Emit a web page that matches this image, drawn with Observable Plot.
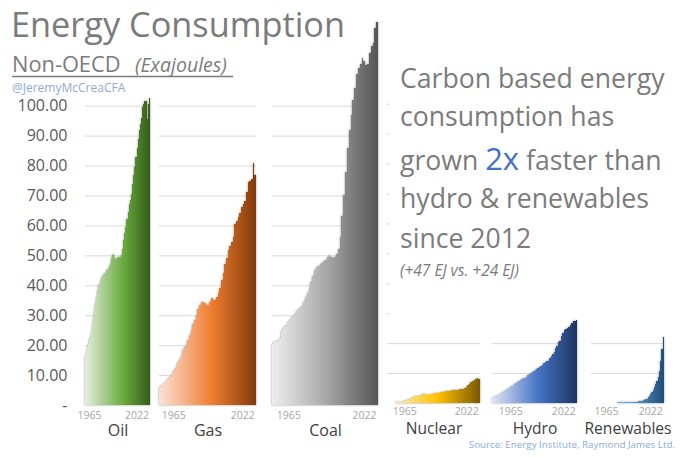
<!DOCTYPE html>
<html><head><meta charset="utf-8">
<script src="https://cdn.jsdelivr.net/npm/d3@7"></script>
<script src="https://cdn.jsdelivr.net/npm/@observablehq/plot@0.6"></script>
<style>
html,body{margin:0;padding:0;background:#fff;}
#chart{position:relative;width:680px;height:457px;overflow:hidden;font-family:"Open Sans",sans-serif;background:#fff;}
#chart > svg{position:absolute;top:0;}
</style></head><body><div id="chart"></div>
<script>
// ---------- data (EJ, non-OECD, 1965..2022) ----------
const years = d3.range(1965, 2023);
const oil = [16.5,17.5,19,20.5,22.5,24.5,27,29.5,32,34,
  36,38,40,41.5,42.5,43,43.5,44,44,45,
  45.5,46.5,47.5,49,50,50.5,49,48.5,49,49.5,
  49.5,49.5,50,52,55,57.5,59.5,62,64.5,67,
  68.5,70.5,74,77,79.5,83,86,89,92,94,
  96,99.5,100.5,101.5,101.5,95.5,100.5,102.5];
const gas = [6,6.5,7,7.3,8,8.8,9.5,10,11,12,
  13,14.4,15.5,16.5,18.3,19.5,20.5,21.7,23.5,25,
  27,28.5,30,32,33.5,34.5,34.4,34,33.5,33.3,
  34.5,35.6,35,35,36,37.3,39,41.7,44,47,
  49,51.7,53,54.4,56,60.6,61.5,62.8,64,66,
  67,68.3,71,74.4,75,75.6,81,77];
const coal = [20.5,21.5,21,21.5,22.5,25,26,26.5,27.5,28,
  29,29.5,30.5,31.5,32,32.5,33,34.5,36,37.5,
  39,41,43,45,46,46.5,47,47.5,48,48.5,
  49.5,50,49.5,49,49.5,50.5,52,56,63,70,
  78,86,92,97,102,106,110.5,112.5,114,116,
  115,113.5,114,117.5,120,121,126,128];
const nuclear = [0.05,0.05,0.1,0.1,0.15,0.2,0.25,0.3,0.4,0.5,
  0.6,0.7,0.9,1.1,1.4,1.7,2.0,2.2,2.4,2.5,
  2.5,2.7,2.9,3.0,2.9,2.8,2.7,2.9,3.1,3.2,
  3.3,3.4,3.5,3.6,3.7,3.8,3.9,3.9,4.0,4.1,
  4.2,4.2,4.3,4.3,4.4,4.7,4.6,4.8,5.0,5.5,
  6.0,6.5,6.9,7.3,7.8,8.1,8.5,7.9];
const hydro = [1.8,2.0,2.2,2.4,2.7,3.0,3.3,3.6,4.0,4.4,
  4.7,5.0,5.3,5.7,6.0,6.3,6.6,7.0,7.3,7.6,
  7.9,8.2,8.5,8.8,9.2,9.6,9.9,10.2,10.7,11.0,
  11.4,11.8,12.1,12.5,12.8,13.2,13.6,13.9,14.1,15.0,
  15.8,16.3,17.0,18.5,19.2,20.5,20.8,22.5,23.3,24.3,
  24.7,25.2,25.5,26.0,26.6,27.3,27.4,27.6];
const renewables = [0.05,0.05,0.05,0.05,0.05,0.05,0.06,0.06,0.07,0.07,
  0.08,0.08,0.09,0.1,0.1,0.11,0.12,0.13,0.14,0.15,
  0.16,0.17,0.18,0.19,0.2,0.22,0.23,0.25,0.27,0.29,
  0.3,0.32,0.35,0.38,0.4,0.45,0.48,0.52,0.58,0.65,
  0.75,0.85,1.0,1.2,1.5,1.9,2.4,3.0,3.6,4.3,
  5.2,6.2,7.4,8.8,10.8,14,18,22];
const panelNames = ["Oil","Gas","Coal","Nuclear","Hydro","Renewables"];
const yTicks = [0,10,20,30,40,50,60,70,80,90,100];
const xTickYears = [1965, 2022];

// ---------- layout & style ----------
const series = [oil, gas, coal, nuclear, hydro, renewables];
const layout = [
  {left:85,  right:150, base:405, firstDx:-8, axis:true,  stops:[[0,"#e6efdf"],[0.5,"#7ab554"],[0.62,"#66a63c"],[1,"#345c18"]]},
  {left:159, right:256, base:405, firstDx:2,  axis:false, stops:[[0,"#fce2d8"],[0.55,"#ee7c2e"],[1,"#823a0b"]]},
  {left:272, right:378, base:405, firstDx:4,  axis:false, stops:[[0,"#eeeeee"],[0.5,"#a9a9a9"],[1,"#555555"]]},
  {left:387, right:480, base:403, firstDx:5,  axis:false, stops:[[0,"#fff3cf"],[0.55,"#ffc000"],[1,"#7a5a00"]]},
  {left:492, right:577, base:403, firstDx:6,  axis:false, stops:[[0,"#dfe6f4"],[0.55,"#4472c4"],[1,"#1d3563"]]},
  {left:591, right:664, base:403, firstDx:3,  axis:false, stops:[[0,"#dfeaf6"],[0.55,"#5b9bd5"],[1,"#1f4e79"]]}
];
const unitPx = 299.3; // pixels for 100 EJ
const chart = document.getElementById("chart");

layout.forEach((cfg, i) => {
  const mL = cfg.axis ? cfg.left : 10, mR = 10;
  const W = cfg.right - cfg.left;
  const upper = cfg.base === 405;
  const data = years.map((year, k) => ({year, value: series[i][k]}));
  const gid = "grad" + i;
  const marks = [
    Plot.ruleY(yTicks.slice(1), {stroke:"#d9d9d9", strokeWidth:1}),
    Plot.rectY(data, {x1: d => d.year - 0.5, x2: d => d.year + 0.5, y: "value",
      fill: `url(#${gid})`, shapeRendering: "crispEdges"}),
    Plot.text([xTickYears[0]], {x: d => d, text: d => `${d}`, frameAnchor:"bottom",
      textAnchor:"start", lineAnchor:"bottom", dx: cfg.firstDx - 0.6, dy: upper ? 13 : 11,
      fontSize: 10.5, fill:"#a6a6a6"}),
    Plot.text([xTickYears[1]], {x: d => d, text: d => `${d}`, frameAnchor:"bottom",
      textAnchor:"end", lineAnchor:"bottom", dx: -1, dy: upper ? 13 : 11,
      fontSize: 10.5, fill:"#a6a6a6"}),
    Plot.text([panelNames[i]], {text: d => d, frameAnchor:"bottom", lineAnchor:"bottom",
      dy: upper ? 30 : 30, fontSize: upper ? 16 : 15.6, fill:"#404040"})
  ];
  if (cfg.axis) {
    marks.push(Plot.axisY({ticks: yTicks, tickSize: 0, tickPadding: 18, fontSize: 16, label: null,
      tickFormat: d => d === 0 ? "-" : d.toFixed(2)}));
  }
  const svg = Plot.plot({
    width: mL + W + mR, height: 457,
    marginLeft: mL, marginRight: mR, marginTop: cfg.base - unitPx, marginBottom: 457 - cfg.base,
    x: {domain: [1964.5, 2022.5], axis: null},
    y: {domain: [0, 100], axis: cfg.axis ? undefined : null, label: null},
    style: {fontFamily: '"Open Sans", sans-serif', color: "#595959", background: "transparent", overflow: "visible"},
    marks
  });
  const s = d3.select(svg);
  const grad = s.insert("defs", ":first-child").append("linearGradient")
    .attr("id", gid).attr("gradientUnits", "userSpaceOnUse")
    .attr("x1", mL).attr("x2", mL + W).attr("y1", 0).attr("y2", 0);
  cfg.stops.forEach(([o, c]) => grad.append("stop").attr("offset", o).attr("stop-color", c));
  s.selectAll('g[aria-label="rect"]').style("filter", "drop-shadow(0px 0px 1.2px rgba(0,0,0,0.45))");
  svg.style.left = (cfg.left - mL) + "px";
  chart.appendChild(svg);
});

// ---------- overlay texts ----------
const ov = d3.select(chart).append("svg")
  .attr("width", 680).attr("height", 457)
  .style("left", "0px").style("pointer-events", "none")
  .style("font-family", '"Open Sans", sans-serif');

ov.append("text").attr("x", 11).attr("y", 37).attr("font-size", 34.3).attr("fill", "#7b7b7b")
  .text("Energy Consumption");
ov.append("text").attr("x", 12).attr("y", 72).attr("font-size", 21.8).attr("fill", "#7b7b7b")
  .text("Non-OECD");
ov.append("text").attr("x", 135).attr("y", 72).attr("font-size", 19.5).attr("font-style", "italic")
  .attr("fill", "#7b7b7b").text("(Exajoules)");
ov.append("line").attr("x1", 12).attr("x2", 233).attr("y1", 76.5).attr("y2", 76.5)
  .attr("stroke", "#7b7b7b").attr("stroke-width", 1.4);
ov.append("text").attr("x", 12).attr("y", 91.5).attr("font-size", 12).attr("fill", "#8eaadb")
  .text("@JeremyMcCreaCFA");

// annotation box (white background hides the lower panels' upper gridlines)
ov.append("rect").attr("x", 390).attr("y", 52).attr("width", 290).attr("height", 264).attr("fill", "#ffffff");
const lines = [
  {t: "Carbon based energy", y: 88},
  {t: "consumption has", y: 126},
  {t: null, y: 170},
  {t: "hydro & renewables", y: 208},
  {t: "since 2012", y: 248}
];
lines.forEach(l => {
  const tx = ov.append("text").attr("x", 400).attr("y", l.y).attr("font-size", 26.6).attr("fill", "#7b7b7b");
  if (l.t) tx.text(l.t);
  else {
    tx.append("tspan").text("grown ");
    tx.append("tspan").attr("font-size", 31).attr("fill", "#4472c4").text("2x");
    tx.append("tspan").text(" faster than");
  }
});
ov.append("text").attr("x", 400).attr("y", 276).attr("font-size", 15.5).attr("font-style", "italic")
  .attr("fill", "#7b7b7b").text("(+47 EJ vs. +24 EJ)");

ov.append("text").attr("x", 675).attr("y", 448).attr("text-anchor", "end").attr("font-size", 9.8)
  .attr("fill", "#8eaadb").text("Source: Energy Institute, Raymond James Ltd.");
</script>
</body></html>
